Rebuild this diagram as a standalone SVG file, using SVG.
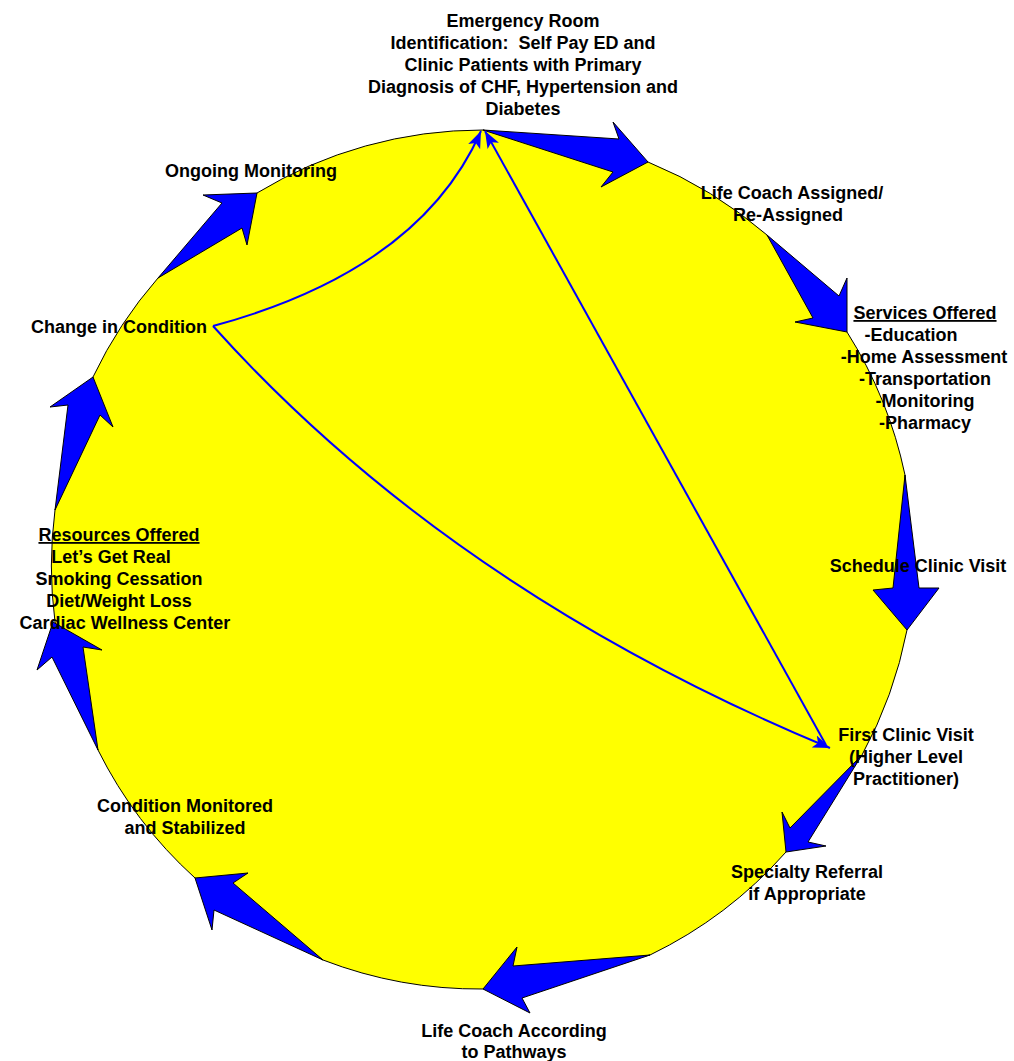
<svg xmlns="http://www.w3.org/2000/svg" width="1014" height="1061" viewBox="0 0 1014 1061">
<style>
.t{font-family:"Liberation Sans",Arial,sans-serif;font-weight:bold;font-size:18px;fill:#000;text-anchor:middle;white-space:pre}
.arr{fill:#0000FF;stroke:#000;stroke-width:1;stroke-linejoin:miter}
.con{fill:none;stroke:#0000FF;stroke-width:2}
</style>
<defs>
<marker id="ah" markerUnits="userSpaceOnUse" markerWidth="18" markerHeight="14" refX="17" refY="6.5" orient="auto">
<path d="M0,0 L17,6.5 L0,13 L4,6.5 Z" fill="#0000FF"/>
</marker>
</defs>
<rect width="1014" height="1061" fill="#fff"/>
<g id="cycle">
<path d="M483,130 L648,162 A434,434 0 0 1 767,235 L847,332 A434,434 0 0 1 905,475 L907,630 A434,434 0 0 1 862,755 L786,852 A434,434 0 0 1 650,955 L483,989 A434,434 0 0 1 323,960 L195,878 A434,434 0 0 1 98,750 L55,622 A434,434 0 0 1 55,510 L93,377 A434,434 0 0 1 158,278 L257,193 A434,434 0 0 1 483,130 Z" fill="#FFFF00" stroke="#000" stroke-width="1"/>
</g>
<g id="cycle-arrows">
<polygon class="arr" points="483,130 619,139 613,122 648,162 601,187 613,172"/>
<polygon class="arr" points="767,235 839,296 847,278 847,332 795,322 813,318"/>
<polygon class="arr" points="905,475 919,588 939,588 907,630 873,590 893,588"/>
<polygon class="arr" points="862,755 808,842 826,846 786,852 782,812 790,828"/>
<polygon class="arr" points="650,955 522,998 530,1013 483,989 517,947 513,966"/>
<polygon class="arr" points="323,960 214,910 212,930 195,878 248,873 233,883"/>
<polygon class="arr" points="98,750 52,657 37,670 53,622 102,650 83,647"/>
<polygon class="arr" points="55,510 68,405 50,407 93,377 113,427 100,415"/>
<polygon class="arr" points="158,278 222,203 203,195 257,193 247,245 242,228"/>
</g>
<g id="connectors">
<path class="con" d="M213,326 Q420,270 481,131" marker-end="url(#ah)"/>
<path class="con" d="M826,745 L485,131" marker-end="url(#ah)"/>
<path class="con" d="M213,326 Q450,590 830,748" marker-end="url(#ah)"/>
</g>
<g id="n-er">
<text class="t" x="523" y="27">Emergency Room</text>
<text class="t" x="523" y="49">Identification:  Self Pay ED and</text>
<text class="t" x="523" y="71">Clinic Patients with Primary</text>
<text class="t" x="523" y="93">Diagnosis of CHF, Hypertension and</text>
<text class="t" x="523" y="115">Diabetes</text>
</g>
<g id="n-lifecoach"><text class="t" x="792" y="199">Life Coach Assigned/</text><text class="t" x="788" y="221">Re-Assigned</text></g>
<g id="n-services">
<text class="t" x="925" y="319" text-decoration="underline">Services Offered</text>
<text class="t" x="911" y="341">-Education</text>
<text class="t" x="924" y="363">-Home Assessment</text>
<text class="t" x="925" y="385">-Transportation</text>
<text class="t" x="925" y="407">-Monitoring</text>
<text class="t" x="925" y="429">-Pharmacy</text>
</g>
<g id="n-schedule"><text class="t" x="918" y="572">Schedule Clinic Visit</text></g>
<g id="n-first"><text class="t" x="906" y="741">First Clinic Visit</text><text class="t" x="906" y="763">(Higher Level</text><text class="t" x="906" y="785">Practitioner)</text></g>
<g id="n-specialty"><text class="t" x="807" y="878">Specialty Referral</text><text class="t" x="807" y="900">if Appropriate</text></g>
<g id="n-pathways"><text class="t" x="514" y="1037">Life Coach According</text><text class="t" x="514" y="1058">to Pathways</text></g>
<g id="n-monitored"><text class="t" x="185" y="812">Condition Monitored</text><text class="t" x="185" y="834">and Stabilized</text></g>
<g id="n-resources">
<text class="t" x="119" y="541" text-decoration="underline">Resources Offered</text>
<text class="t" x="111" y="563">Let’s Get Real</text>
<text class="t" x="119" y="585">Smoking Cessation</text>
<text class="t" x="119" y="607">Diet/Weight Loss</text>
<text class="t" x="125" y="629">Cardiac Wellness Center</text>
</g>
<g id="n-change"><text class="t" x="119" y="333">Change in Condition</text></g>
<g id="n-ongoing"><text class="t" x="251" y="177">Ongoing Monitoring</text></g>
</svg>
